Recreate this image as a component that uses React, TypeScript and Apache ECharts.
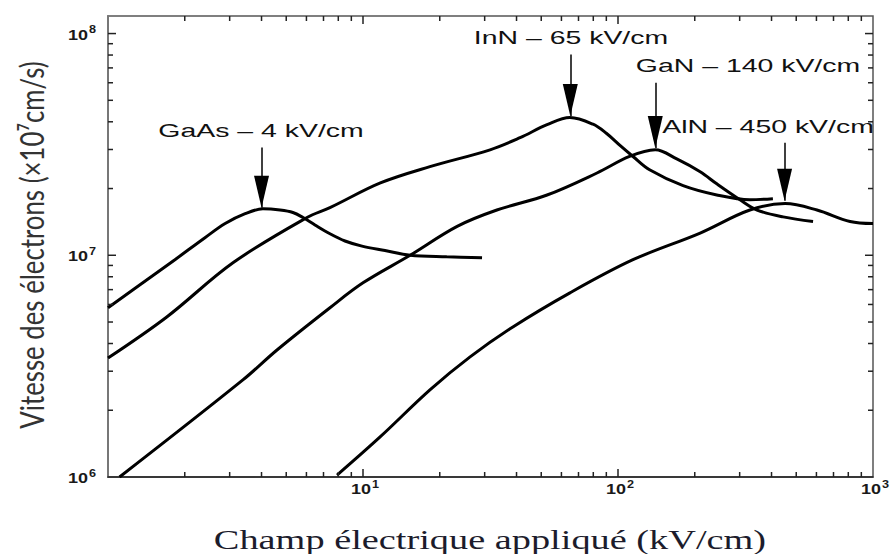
import React, { useEffect, useRef } from 'react';
import * as echarts from 'echarts';

// Electric field (kV/cm) and electron velocity (cm/s)
const gaasField = [1, 1.335, 1.83, 2.4, 2.88, 3.45, 4.05, 4.73, 5.31, 5.82, 6.48, 7.42, 8.5, 9.91, 12.2, 15.3, 21.3, 29.3];
const gaasVel = [5.8e6, 7.36e6, 9.55e6, 1.2e7, 1.39e7, 1.54e7, 1.62e7, 1.6e7, 1.56e7, 1.48e7, 1.37e7, 1.25e7, 1.16e7, 1.1e7, 1.05e7, 1.0e7, 9.84e6, 9.75e6];

const innField = [1, 1.7, 3.09, 6.03, 7.42, 11.7, 18.3, 31.5, 41.3, 52.7, 64.8, 79.8, 90, 101.8, 114.5, 133, 180, 244, 329, 405];
const innVel = [3.44e6, 5.27e6, 9.25e6, 1.48e7, 1.64e7, 2.12e7, 2.51e7, 2.99e7, 3.39e7, 3.88e7, 4.18e7, 3.9e7, 3.55e7, 3.13e7, 2.79e7, 2.43e7, 2.06e7, 1.87e7, 1.78e7, 1.8e7];

const ganField = [1.11, 3.38, 4.6, 7.42, 10, 15.3, 23.4, 33.5, 52.7, 82.7, 111, 140, 170, 210, 244, 301, 351, 444, 582];
const ganVel = [1.0e6, 2.74e6, 3.74e6, 5.8e6, 7.51e6, 1.0e7, 1.35e7, 1.6e7, 1.87e7, 2.35e7, 2.79e7, 2.99e7, 2.72e7, 2.38e7, 2.1e7, 1.78e7, 1.6e7, 1.49e7, 1.42e7];

const alnField = [7.91, 11.7, 18.3, 26.3, 38.7, 64.8, 114.5, 210, 329, 452, 603, 813, 1000];
const alnVel = [1.02e6, 1.52e6, 2.47e6, 3.48e6, 4.75e6, 6.77e6, 9.55e6, 1.26e7, 1.6e7, 1.71e7, 1.6e7, 1.42e7, 1.39e7];

// Peak annotations (arrows)
const peakLabels = ['GaAs – 4 kV/cm', 'InN – 65 kV/cm', 'GaN – 140 kV/cm', 'AlN – 450 kV/cm'];
const peakField = [4, 65, 140, 450];
const peakTipVel = [1.64e7, 4.25e7, 3.05e7, 1.76e7];
const arrowTopVel = [3.06e7, 8.04e7, 6.0e7, 3.22e7];

// Axis ticks and tick labels
const xMinorTicks = [2, 3, 4, 5, 6, 7, 8, 9, 20, 30, 40, 50, 60, 70, 80, 90, 200, 300, 400, 500, 600, 700, 800, 900];
const xMajorTicks = [10, 100];
const yMinorTicks = [2e6, 3e6, 4e6, 5e6, 6e6, 7e6, 8e6, 9e6, 2e7, 3e7, 4e7, 5e7, 6e7, 7e7, 8e7, 9e7];
const yMajorTicks = [1e7, 1e8];
const xTickLabels = [10, 100, 1000];
const yTickLabels = [1e6, 1e7, 1e8];

const X_MIN = 1;
const X_MAX = 1000;
const Y_MIN = 1e6;
const Y_MAX = 1.2e8;

const zip = (a: number[], b: number[]) => a.map((v, i) => [v, b[i]]);

export default function App() {
  const ref = useRef<HTMLDivElement>(null);
  useEffect(() => {
    if (!ref.current) return;
    const chart = echarts.init(ref.current, undefined, { renderer: 'svg' });

    const curve = (name: string, f: number[], v: number[], idx: number) => ({
      name,
      type: 'line',
      data: zip(f, v),
      showSymbol: false,
      smooth: 0.35,
      lineStyle: { color: '#000', width: 3 },
      z: 3,
      markLine: {
        silent: true,
        symbol: ['none', 'none'],
        lineStyle: { color: '#000', width: 1.5, type: 'solid' },
        label: { show: false },
        data: [[{ coord: [peakField[idx], arrowTopVel[idx]] }, { coord: [peakField[idx], peakTipVel[idx]] }]],
      },
      markPoint: {
        silent: true,
        symbol: 'path://M0,0L10,0L5,20Z',
        symbolSize: [15, 32],
        symbolOffset: [0, '-50%'],
        itemStyle: { color: '#000' },
        label: { show: false },
        data: [{ coord: [peakField[idx], peakTipVel[idx]] }],
      },
    });

    const option: any = {
      animation: false,
      backgroundColor: '#fff',
      grid: {
        left: 108,
        right: 17,
        top: 16,
        bottom: 77,
        show: true,
        borderColor: '#555',
        borderWidth: 1.5,
        backgroundColor: 'transparent',
      },
      xAxis: {
        type: 'log',
        logBase: 10,
        min: X_MIN,
        max: X_MAX,
        axisLine: { show: true, lineStyle: { color: '#222', width: 1.5 } },
        axisTick: { show: false },
        splitLine: { show: false },
        axisLabel: { show: false },
      },
      yAxis: {
        type: 'log',
        logBase: 10,
        min: Y_MIN,
        max: Y_MAX,
        axisLine: { show: true, lineStyle: { color: '#777', width: 2 } },
        axisTick: { show: false },
        splitLine: { show: false },
        axisLabel: { show: false },
      },
      series: [
        curve('GaAs', gaasField, gaasVel, 0),
        curve('InN', innField, innVel, 1),
        curve('GaN', ganField, ganVel, 2),
        curve('AlN', alnField, alnVel, 3),
      ],
    };

    chart.setOption(option);

    // Frame ticks and tick labels, placed through the axes' own scales
    const toPx = (x: number, y: number) => chart.convertToPixel({ gridIndex: 0 }, [x, y]) as number[];
    const W = 1.5;
    const els: any[] = [];
    const tickRect = (x: number, y: number, w: number, h: number) =>
      els.push({ type: 'rect', silent: true, z: 100, shape: { x, y, width: w, height: h }, style: { fill: '#222' } });
    const xTick = (v: number, len: number) => {
      const b = toPx(v, Y_MIN);
      const t = toPx(v, Y_MAX);
      tickRect(b[0] - W / 2, b[1] - len, W, len);
      tickRect(t[0] - W / 2, t[1], W, len);
    };
    const yTick = (v: number, len: number) => {
      const l = toPx(X_MIN, v);
      const r = toPx(X_MAX, v);
      tickRect(l[0], l[1] - W / 2, len, W);
      tickRect(r[0] - len, r[1] - W / 2, len, W);
    };
    xMinorTicks.forEach((v) => xTick(v, 5));
    xMajorTicks.forEach((v) => xTick(v, 8));
    yMinorTicks.forEach((v) => yTick(v, 5));
    yMajorTicks.forEach((v) => yTick(v, 8));

    const labelFont = { fontFamily: 'Liberation Sans', fill: '#1a1a1a', fontWeight: 'bold' };
    const exp = (v: number) => String(Math.round(Math.log10(v)));
    xTickLabels.forEach((v) => {
      const p = toPx(v, Y_MIN);
      els.push({ type: 'text', silent: true, x: p[0] + 8, y: p[1] + 12, scaleX: 1.2,
        style: { ...labelFont, text: '10', fontSize: 15, align: 'right', verticalAlign: 'middle' } });
      els.push({ type: 'text', silent: true, x: p[0] + 9, y: p[1] + 7, scaleX: 1.15,
        style: { ...labelFont, text: exp(v), fontSize: 11, align: 'left', verticalAlign: 'middle' } });
    });
    yTickLabels.forEach((v) => {
      const p = toPx(X_MIN, v);
      els.push({ type: 'text', silent: true, x: p[0] - 20, y: p[1] + 1, scaleX: 1.2,
        style: { ...labelFont, text: '10', fontSize: 15, align: 'right', verticalAlign: 'middle' } });
      els.push({ type: 'text', silent: true, x: p[0] - 19, y: p[1] - 4, scaleX: 1.15,
        style: { ...labelFont, text: exp(v), fontSize: 11, align: 'left', verticalAlign: 'middle' } });
    });

    els.push(
      {
        type: 'text',
        x: 31,
        y: 245,
        rotation: Math.PI / 2,
        scaleY: 1.3,
        style: {
          text: 'Vitesse des électrons (×10⁷cm/s)',
          fontSize: 25.8,
          fontFamily: 'Lato',
          fill: '#333',
          align: 'center',
          verticalAlign: 'middle',
        },
      },
      {
        type: 'text',
        x: 490,
        y: 540,
        scaleX: 1.42,
        style: {
          text: 'Champ électrique appliqué (kV/cm)',
          fontSize: 27,
          fontFamily: 'Liberation Serif',
          fill: '#1c1c2c',
          align: 'center',
          verticalAlign: 'middle',
        },
      },
      ...[
        [261, 131],
        [571, 38],
        [748, 66],
        [768, 127],
      ].map((pos, i) => ({
        type: 'text',
        x: pos[0],
        y: pos[1],
        scaleX: 1.58,
        style: {
          text: peakLabels[i],
          fontSize: 18,
          fontFamily: 'Liberation Sans',
          fill: '#111',
          align: 'center',
          verticalAlign: 'middle',
        },
      }))
    );

    chart.setOption({ graphic: els });
    return () => chart.dispose();
  }, []);

  return (
    <div
      ref={ref}
      style={{ position: 'fixed', left: 0, top: 0, width: 890, height: 554, background: '#fff' }}
    />
  );
}
